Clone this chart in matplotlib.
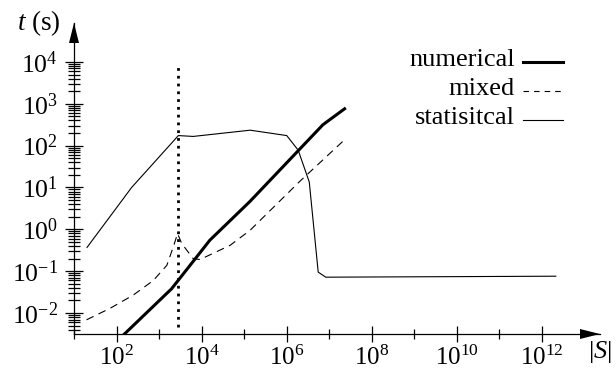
import matplotlib
matplotlib.use("Agg")
import matplotlib.pyplot as plt
from matplotlib.ticker import FixedLocator, LogFormatterMathtext, NullFormatter
from matplotlib.patches import Polygon
from matplotlib.lines import Line2D

plt.rcParams['font.family'] = ['Liberation Serif', 'DejaVu Serif']
plt.rcParams['mathtext.fontset'] = 'custom'
plt.rcParams['mathtext.rm'] = 'Liberation Serif'
plt.rcParams['mathtext.it'] = 'Liberation Serif:italic'
plt.rcParams['mathtext.bf'] = 'Liberation Serif:bold'

# ---- data ----
num_x = [100, 1950, 15500, 135000, 7.1e6, 2.3e7]
num_y = [0.0021, 0.038, 0.55, 4.6, 316, 760]

mix_x = [19.5, 69, 245, 725, 1510, 2140, 2700, 3390, 6300, 9100, 46800, 138000, 2.04e6, 2.34e7]
mix_y = [0.0069, 0.0129, 0.0269, 0.060, 0.138, 0.38, 0.79, 0.457, 0.20, 0.19, 0.417, 0.955, 14.1, 141]

stat_x = [20, 224, 2820, 6300, 138000, 1e6, 1.86e6, 3.39e6, 5.5e6, 8.3e6, 2.14e12]
stat_y = [0.37, 10, 174, 166, 234, 174, 78, 13.5, 0.095, 0.072, 0.076]

vline_x = 2800
vline_y = [0.0047, 8700]

legend_labels = ['numerical', 'mixed', 'statisitcal']
x_major = [1e2, 1e4, 1e6, 1e8, 1e10, 1e12]
x_minor = [1e1, 1e3, 1e5, 1e7, 1e9, 1e11]
y_major = [1e-2, 1e-1, 1e0, 1e1, 1e2, 1e3, 1e4]
y_minor_decades = [1e-3, 1e-2, 1e-1, 1e0, 1e1, 1e2, 1e3]

W, H = 616, 373
fig = plt.figure(figsize=(W / 100, H / 100), dpi=100)

def fx(x):
    return x / W

def fy(y):
    return 1 - y / H

ax_l, ax_r, ax_t, ax_b = 74, 600, 23, 334
ax = fig.add_axes([fx(ax_l), fy(ax_b), (ax_r - ax_l) / W, (ax_b - ax_t) / H])
ax.set_xscale('log')
ax.set_yscale('log')
ax.set_xlim(10 ** 0.995, 10 ** 13.37)
ax.set_ylim(10 ** -2.50, 10 ** 4.93)

for s in ['top', 'right']:
    ax.spines[s].set_visible(False)
for s in ['left', 'bottom']:
    ax.spines[s].set_linewidth(0.9)
    ax.spines[s].set_color('black')

ax.xaxis.set_major_locator(FixedLocator(x_major))
ax.xaxis.set_minor_locator(FixedLocator(x_minor))
ax.xaxis.set_major_formatter(LogFormatterMathtext())
ax.xaxis.set_minor_formatter(NullFormatter())

ax.yaxis.set_major_locator(FixedLocator(y_major))
ymin = [d * k for d in y_minor_decades for k in range(2, 10)]
ax.yaxis.set_minor_locator(FixedLocator(ymin))
ax.yaxis.set_major_formatter(LogFormatterMathtext())
ax.yaxis.set_minor_formatter(NullFormatter())

ax.tick_params(axis='x', which='major', direction='inout', length=12, width=0.9, pad=2.5, labelsize=18)
ax.tick_params(axis='x', which='minor', direction='inout', length=7, width=0.9)
ax.tick_params(axis='y', which='major', direction='inout', length=13, width=0.9, pad=5, labelsize=18.5)
ax.tick_params(axis='y', which='minor', direction='inout', length=8.5, width=0.9)

ax.plot(num_x, num_y, color='black', lw=2.2, solid_joinstyle='miter')
ax.plot(mix_x, mix_y, color='black', lw=0.8, linestyle=(0, (7, 5)))
ax.plot(stat_x, stat_y, color='black', lw=0.8)
ax.vlines(vline_x, vline_y[0], vline_y[1], colors='black', lw=2.0, linestyles=[(0, (1, 1.8))])

# arrow heads (axes fraction)
aw = ax_r - ax_l
ah = ax_b - ax_t
xh = Polygon([[1.0, 0.0], [1 - 20 / aw, 5 / ah], [1 - 20 / aw, -5 / ah]],
             closed=True, transform=ax.transAxes, color='black', clip_on=False, lw=0)
yh = Polygon([[0.0, 1.0], [-5 / aw, 1 - 20 / ah], [5 / aw, 1 - 20 / ah]],
             closed=True, transform=ax.transAxes, color='black', clip_on=False, lw=0)
ax.add_patch(xh)
ax.add_patch(yh)

# axis labels
fig.text(fx(17), fy(23), '$t$ (s)', ha='left', va='center', fontsize=19.5)
fig.text(fx(588), fy(352), '|$S$|', ha='left', va='center', fontsize=19)

# legend
styles = [dict(lw=2.2, ls='-'), dict(lw=0.8, ls=(0, (5, 4.5))), dict(lw=0.8, ls='-')]
rows = [61.7, 90.7, 120]
for lab, st, yy in zip(legend_labels, styles, rows):
    fig.text(fx(515), fy(yy - 2), lab, ha='right', va='center', fontsize=19)
    fig.add_artist(Line2D([fx(523), fx(563)], [fy(yy), fy(yy)], color='black',
                          transform=fig.transFigure, **st))

fig.savefig('out.png', dpi=100)
